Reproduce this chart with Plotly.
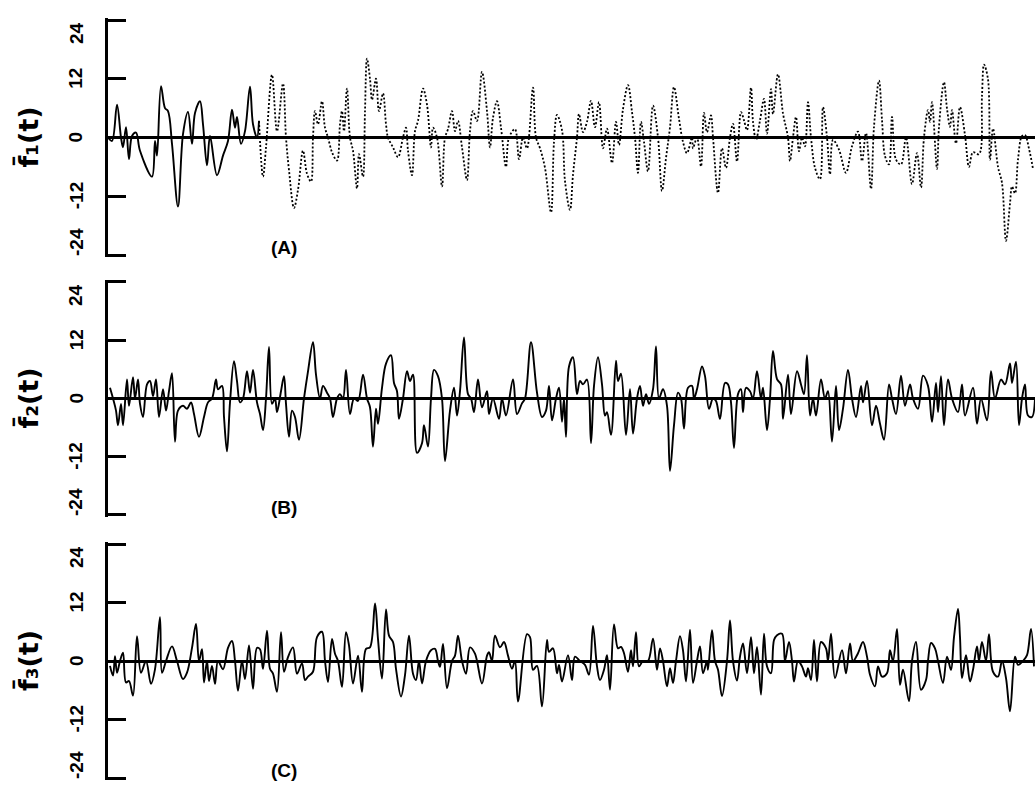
import plotly.graph_objects as go

# ---------------- data ----------------
t_a = [0, 4, 9, 13, 15, 18, 21, 24, 28, 32, 44, 47, 49, 53, 57, 60, 64, 70, 75, 80, 84, 87, 92, 95, 99, 102,
       109, 115, 120, 124, 127, 129, 133, 137, 142, 145, 149, 151, 155, 158, 164, 169, 175, 178, 181, 186, 190,
       195, 199, 203, 205, 207, 210, 214, 217, 220, 224, 229, 232, 234, 236, 239, 242, 245, 249, 251, 255, 257,
       259, 262, 264, 268, 271, 275, 278, 280, 285, 290, 295, 298, 300, 304, 307, 310, 315, 319, 323, 325, 329,
       334, 337, 340, 344, 347, 350, 354, 359, 362, 365, 369, 374, 379, 382, 385, 389, 393, 398, 401, 407, 411,
       415, 419, 425, 428, 432, 437, 443, 446, 449, 454, 457, 462, 465, 469, 471, 475, 479, 483, 487, 491, 495,
       499, 504, 508, 511, 515, 520, 524, 527, 530, 533, 536, 540, 545, 550, 554, 558, 562, 566, 571, 575, 579,
       584, 585, 589, 593, 596, 599, 603, 605, 610, 614, 618, 622, 625, 629, 633, 636, 639, 643, 645, 648, 652,
       656, 659, 663, 665, 670, 675, 680, 682, 685, 688, 691, 694, 697, 700, 703, 707, 712, 715, 719, 722, 725,
       731, 738, 744, 750, 754, 758, 763, 766, 771, 774, 777, 781, 784, 788, 793, 798, 804, 809, 813, 816, 820,
       822, 824, 829, 831, 836, 839, 842, 844, 848, 852, 857, 861, 865, 871, 874, 876, 880, 882, 885, 890, 894,
       898, 902, 904, 907, 910, 914, 917, 921, 925]
f_a = [0, -0.7, 6.7, 0, -2, 2.1, -4.4, 0.3, 1.0, -2.7, -8, -0.7, -3.7, 10.5, 6, 5.4, -1.3, -14.1, 0.7, 5.2, -1.3,
       5, 7.4, 2.7, -5.7, 0.3, -7.7, -3.7, -0.7, 5.7, 2, 4.2, -1.3, 1.3, 10.4, 2.7, 0, 3.4, -8, -2, 12.8, 1.3, 11,
       0, -6.7, -14.4, -10.7, -2.7, -7.4, -9, 0, 5.4, 2.7, 7.4, 2, 0, -3, -4.7, 2.7, 5.4, 1.3, 10, 0, -2.7, -10.4,
       -3.4, -8, 5.4, 16.1, 12, 7.7, 12, 5.4, 9, 2.7, 0, -2, -4, 0, 2, -2.7, -7.7, 1.3, 3.4, 10, 6.7, -2, 2, 0,
       -10, 0, 1.7, 5.4, 1.3, 3.4, -2, -8.7, 1.3, 5.4, 3.4, 13.4, 5.4, -2, 4, 7.4, 2, -6, 0, 1.7, -4.4, 0, -2.2,
       10.2, 0, -2.2, -6.2, -15.3, -0.9, 4.6, 1.5, -8.9, -14.8, -7.6, 0, 4.8, 1.1, 3.2, 7.5, 2.1, 7.2, -2.2, 1.8,
       -5.2, 3.2, -1.5, 5.8, 10.7, 5.2, 0, -7.2, 3.2, -0.9, -6.9, 6.5, 0, -10.9, -4.2, 2.1, 10.3, 3.8, -0.9, -3.2,
       0, -2.2, 0, -5.9, 5, 1.1, 4.5, 0, -11.3, -2.2, -6.2, 0, 2.8, -4.9, 5.2, 3.5, 1.5, 10.2, 3.2, -0.5, 3.5, 7.9,
       0.8, 9.9, 4.8, 12.9, 4.9, 0, -4.8, 0, 4.2, -2.8, 0, -1.8, 7.2, 0, -6.2, -8.5, 6.2, 0, -7.5, -0.5, -2.5,
       -7.2, -1.8, 1.2, -4.8, 0.9, -10.5, 2.2, 11.6, 3.6, -3.8, -5.5, 4.2, -4.5, -5.5, 0, -9.5, -3.2, -10.2, 0,
       5.6, 3.2, 7.2, -6.4, 2.2, 11.3, 5.9, 2.2, 5.6, -1.2, 6.2, 0.5, -6, -3, -3.4, 8.6, 14.9, 11.9, -4.5, 1.8,
       -6, -9.3, -21.1, -13.5, -10, -11.4, -4.5, 0.3, 0.5, -2.3, -6.4]

t_b = [2, 5, 8, 10, 13, 15, 19, 21, 25, 27, 30, 32, 35, 39, 42, 45, 48, 51, 55, 58, 61, 64, 67, 70, 75, 79, 83,
       86, 91, 96, 100, 104, 108, 110, 114, 116, 119, 122, 126, 129, 132, 135, 139, 142, 145, 149, 152, 155, 158,
       161, 164, 167, 169, 173, 176, 178, 181, 184, 187, 191, 196, 200, 205, 208, 212, 215, 219, 222, 225, 229,
       232, 235, 238, 242, 246, 250, 255, 259, 262, 265, 268, 270, 274, 278, 283, 286, 289, 291, 295, 299, 302,
       305, 309, 314, 316, 320, 323, 326, 330, 334, 337, 342, 346, 349, 352, 356, 360, 363, 366, 370, 374, 379,
       381, 385, 391, 394, 398, 405, 409, 414, 417, 423, 429, 434, 438, 441, 444, 448, 451, 454, 456, 458, 461,
       465, 469, 472, 475, 479, 483, 486, 490, 494, 497, 499, 503, 508, 510, 513, 518, 522, 525, 529, 532, 535,
       538, 541, 545, 548, 551, 555, 559, 562, 566, 570, 573, 576, 580, 584, 586, 589, 594, 597, 601, 605, 608,
       612, 617, 620, 623, 626, 630, 633, 635, 638, 642, 645, 649, 653, 655, 659, 662, 665, 669, 673, 675, 680,
       683, 689, 693, 696, 699, 702, 705, 708, 713, 717, 720, 724, 728, 731, 735, 740, 744, 748, 753, 755, 759,
       764, 768, 772, 776, 781, 784, 788, 793, 797, 802, 805, 810, 815, 820, 824, 828, 830, 833, 836, 840, 844,
       850, 854, 857, 865, 869, 873, 879, 883, 887, 893, 897, 902, 904, 908, 911, 914, 917, 920, 924, 927]
f_b = [2.2, 0, -2.5, -5.5, -1.1, -5.5, 3.9, -1.5, 4.4, 0, 3.9, -1.1, -3.8, 2.9, 3.6, 0.5, 3.9, -3.8, 1.9, -2.5,
       1.5, 5.2, -8.9, -2.5, -1.5, -2.1, -0.8, -3.2, -7.9, -3.8, -0.8, 0, 3.9, 1.9, 2.6, -3.8, -10.9, -0.8, 7.7,
       3.6, -0.8, 0, 5.6, 1.2, 5.9, -0.8, -3.2, -6.5, 0, 10.6, -1.1, 0, -2.8, 1.5, 4.6, -1.1, -7.9, -2.5, -3.8,
       -8.5, 0, 5.6, 11.6, 4.9, 0, 2.6, 1.2, 0, -3.8, 0, 0.9, 0, 5.9, -3.2, 0, -0.5, 4.9, 0, -1.8, -9.9, -2.1,
       -5.2, 2.2, 7.2, 8.9, 3.2, 1.5, -4.2, 0, 5.6, 3.6, 4.9, -11.2, -9.2, -5.5, -9.9, 0, 5.9, 4.6, 0, -12.9,
       -2.5, 2.2, -3.5, 1.5, 12.6, 0.9, 0, -2.8, 3.9, -1.8, 1.5, -3.2, 0, -4.2, 0, -3.5, 3.9, -3.2, -1, 0, 11.6,
       1.2, -3.8, -2.5, 2.6, -4.5, 0, 2.2, -4.8, 0, -7.9, 6.6, 8.5, 0.9, 3.6, 2.9, 3.9, -9.2, 2.6, 8.5, 2.9,
       -3.5, -2.8, -7.5, 7.8, 3.6, 5.1, -7.5, 1.9, -7.2, 0, 2.6, -1.5, 0.9, -1.1, 1.9, 10.7, 0, 1.9, -1.5, -14.9,
       -5.5, 1.2, 0, -6.2, 2.2, 2.6, 0, 1.9, 6.6, 4.6, -2.1, 0, -0.5, -4.2, 3.2, 2.9, -0.8, -10.2, 0.9, 1.9,
       -2.8, 2.2, 1.5, 0, 5.6, 0, 2.2, -6.5, 0, 9.8, 4, 2.9, -4.2, 4.9, -3.2, 5.6, 2.9, 0.9, 8.9, -3.5, 0, -3.5,
       3.9, 0, 1.5, -8.9, 2.6, -6.5, -2.1, 5.9, 0, -3.8, 2.6, -0.8, 3.6, -5.5, -1.5, -5.2, -8.5, 2.9, 0, -3.2,
       4.7, -1.5, 2.9, 0, -2.1, 4.7, 2.6, -4.8, 3.2, -2.8, 4.6, -5.5, 3.9, 0, -2.8, 2.9, -3.5, 2.2, -5.2, 0,
       -4.5, 5.6, 0, 3.9, 2.9, 7.2, 3.2, 7.6, -5.5, 0, 2.9, -3.5, -3.8, 0]

t_c = [2, 5, 7, 9, 12, 15, 18, 21, 25, 29, 33, 38, 43, 47, 52, 54, 58, 64, 69, 75, 79, 84, 88, 91, 94, 96, 99,
       101, 104, 107, 110, 115, 120, 124, 127, 130, 134, 137, 141, 145, 149, 152, 155, 159, 162, 165, 169, 173,
       176, 180, 185, 189, 194, 197, 200, 205, 209, 214, 217, 220, 224, 227, 230, 234, 238, 241, 245, 250, 254,
       258, 262, 267, 270, 274, 278, 281, 285, 288, 293, 297, 301, 305, 308, 311, 314, 318, 323, 327, 330, 332,
       335, 339, 344, 347, 350, 354, 358, 362, 367, 374, 379, 381, 384, 387, 392, 396, 400, 404, 407, 410, 419,
       422, 425, 429, 434, 439, 441, 445, 449, 451, 454, 460, 464, 467, 472, 477, 481, 485, 489, 492, 496, 499,
       502, 506, 510, 513, 516, 520, 523, 525, 528, 531, 535, 540, 545, 549, 552, 555, 559, 562, 565, 568, 572,
       575, 578, 582, 585, 589, 592, 595, 599, 600, 604, 607, 610, 614, 619, 622, 625, 629, 632, 635, 639, 643,
       646, 649, 653, 656, 659, 663, 666, 669, 674, 677, 681, 684, 686, 690, 694, 698, 700, 703, 706, 709, 713,
       718, 720, 723, 727, 734, 738, 742, 745, 750, 755, 759, 762, 767, 770, 774, 779, 782, 785, 789, 792, 795,
       801, 804, 808, 813, 818, 820, 823, 827, 830, 835, 839, 843, 846, 850, 852, 854, 858, 862, 865, 869, 871,
       874, 878, 881, 885, 890, 894, 898, 902, 907, 910, 915, 919, 923, 926]
f_c = [-1, -3, 1, -2.4, 0, 1.7, -4.4, -4.1, -7.1, 5.1, -2.4, 0, -4.7, -1.7, 9, -2.4, 0, 3, 0, -3.7, -2.4, 2.7,
       7.6, 0, 2.4, -4.4, 0, -4.1, -1, -4.7, 0, -1.7, 2.7, 4.1, 0, -6.1, 0, -3.7, 3.2, -5.7, 2.7, 2.4, -1.6, 6.2,
       -1.6, -2.6, -6.3, 5.9, -2.2, 0.8, 2.8, -2.6, -0.5, -3.9, -3.2, -2.2, 4.9, 6, 0, -4.3, 4.5, 1.5, 0, -5.3,
       5.9, 3.2, -4.6, 1.1, -6.3, 2.5, 2.8, 11.8, 4.5, -3.6, 10.6, 5.2, 3.9, -1.6, -7.3, -2.9, 5.2, -2.6, -3.9,
       0, -4.6, 0, 2.2, 2.5, 0, -1.2, 3.5, -5.6, 0, 1.1, 5.2, 0, -2.6, 2.8, 1.5, -4.6, 1.1, 1.8, 0, 5.2, 2.8,
       3.9, 1.1, -1.6, 0, -8.3, 5.5, 4.9, -1.8, -1, -9.3, 4.3, 1.9, 2.6, -2.5, -0.8, -4.2, 1.2, -3.9, 0.9, 0,
       -0.8, -2.8, 7.2, -1.1, -3.9, -1.8, 1.2, -5.9, 7.5, 2.6, 2.9, 1.6, -2.2, 2.2, -1.1, 5.9, -1.1, 0, 0, 4.6,
       -1.8, 2.6, 0, -5.2, -1.5, -4.5, 0, 5.1, 2.2, -4.2, 6.4, -4.5, 0, 3, -2.5, 0, -1.8, 6.3, 0, -1.8, -7.2, 0,
       8.3, 0, -4, 0.9, 3.6, -2.5, 4.9, -2.5, 2.9, -6.9, 5.6, -1.1, -2.5, 4.3, 5.3, 5.6, 0, 3.9, 0, -4.2, 0,
       -1.1, -3.2, -1.5, -3.9, 4.3, -4.2, 3.9, 2.6, 0, 5.6, -3.5, 2.2, -2.5, 3.6, 0, 1.6, 3.9, 0.9, -2.8, -5.2,
       -1.1, -3.2, -2.5, 2.2, 0, 6.6, -4.9, -1.8, -8.2, 0, 3.9, -5.9, -3.9, 0, 3.7, 2.6, 0, -4.5, 0.9, -1.8,
       4.9, 10.7, 4.9, -3.5, 1.2, -4.2, -1.8, 3, 0, 3.9, 0, 5.5, -2.2, -3.2, 0, -3.5, -10.3, 0.9, -0.8, 0, 1.2,
       6.6, -1.1]

tick_vals = [-24, -12, 0, 12, 24]
tick_text = ["-24", "-12", "0", "12", "24"]
panel_titles = ["f\u0304\u2081(t)", "f\u0304\u2082(t)", "f\u0304\u2083(t)"]
panel_tags = ["(A)", "(B)", "(C)"]

# ---------------- layout geometry ----------------
W, H = 1035, 792
x_left = 108
t_max = 927
rows = [(20, 255), (282, 515), (544, 778)]   # pixel rows of +24 and -24 per panel
label_shift = {24: -13, -24: 13}             # end labels sit inside the bracket
pad = 0.4                                    # small range pad so the end ticks are drawn

fig = go.Figure()

line_solid = dict(color="black", width=1.9, shape="spline", smoothing=1.0)

split = next(i for i, v in enumerate(t_a) if v >= 151)
fig.add_trace(go.Scatter(x=t_a[:split + 1], y=f_a[:split + 1], mode="lines",
                         line=line_solid, xaxis="x", yaxis="y", showlegend=False))
fig.add_trace(go.Scatter(x=t_a[split:], y=f_a[split:], mode="lines",
                         line=dict(color="black", width=1.8, shape="spline", smoothing=1.0,
                                   dash="2px,2px"),
                         xaxis="x", yaxis="y", showlegend=False))
fig.add_trace(go.Scatter(x=t_b, y=f_b, mode="lines", line=line_solid,
                         xaxis="x2", yaxis="y2", showlegend=False))
fig.add_trace(go.Scatter(x=t_c, y=f_c, mode="lines", line=line_solid,
                         xaxis="x3", yaxis="y3", showlegend=False))

layout = dict(width=W, height=H, margin=dict(l=0, r=0, t=0, b=0),
              paper_bgcolor="white", plot_bgcolor="white", showlegend=False)

annotations = []
for i, (top, bot) in enumerate(rows):
    sfx = "" if i == 0 else str(i + 1)
    ppu = (bot - top) / 48.0
    top_px = top - pad * ppu
    bot_px = bot + pad * ppu
    layout["xaxis" + sfx] = dict(domain=[x_left / W, 1], range=[0, t_max], visible=False,
                                 anchor="y" + sfx, fixedrange=True)
    layout["yaxis" + sfx] = dict(
        domain=[1 - bot_px / H, 1 - top_px / H], range=[-24 - pad, 24 + pad], anchor="x" + sfx,
        tickmode="array", tickvals=tick_vals, ticks="inside", ticklen=18,
        showticklabels=False, tickwidth=2.6, tickcolor="black", showline=True, linewidth=2.5,
        linecolor="black", showgrid=False, zeroline=True, zerolinewidth=2.8,
        zerolinecolor="black", fixedrange=True)
    for v, s in zip(tick_vals, tick_text):
        annotations.append(dict(text="<b>" + s + "</b>", xref="paper", yref="y" + sfx,
                                x=76 / W, y=v, yshift=label_shift.get(v, 0), textangle=-90,
                                showarrow=False, xanchor="center", yanchor="middle",
                                font=dict(family="Liberation Sans", size=19, color="black")))
    mid = (top + bot) / 2
    annotations.append(dict(text="<b>" + panel_titles[i] + "</b>", xref="paper", yref="paper",
                            x=28 / W, y=1 - mid / H, textangle=-90, showarrow=False,
                            font=dict(family="DejaVu Sans", size=27, color="black"),
                            xanchor="center", yanchor="middle"))
    annotations.append(dict(text="<b>" + panel_tags[i] + "</b>", xref="paper", yref="paper",
                            x=284 / W, y=1 - (bot - 8) / H, showarrow=False,
                            font=dict(family="Liberation Sans", size=19, color="black"),
                            xanchor="center", yanchor="middle"))
layout["annotations"] = annotations
fig.update_layout(**layout)

fig.write_html("out.html", config={"displayModeBar": False},
               post_script="document.body.style.margin='0px';document.body.style.overflow='hidden';")
